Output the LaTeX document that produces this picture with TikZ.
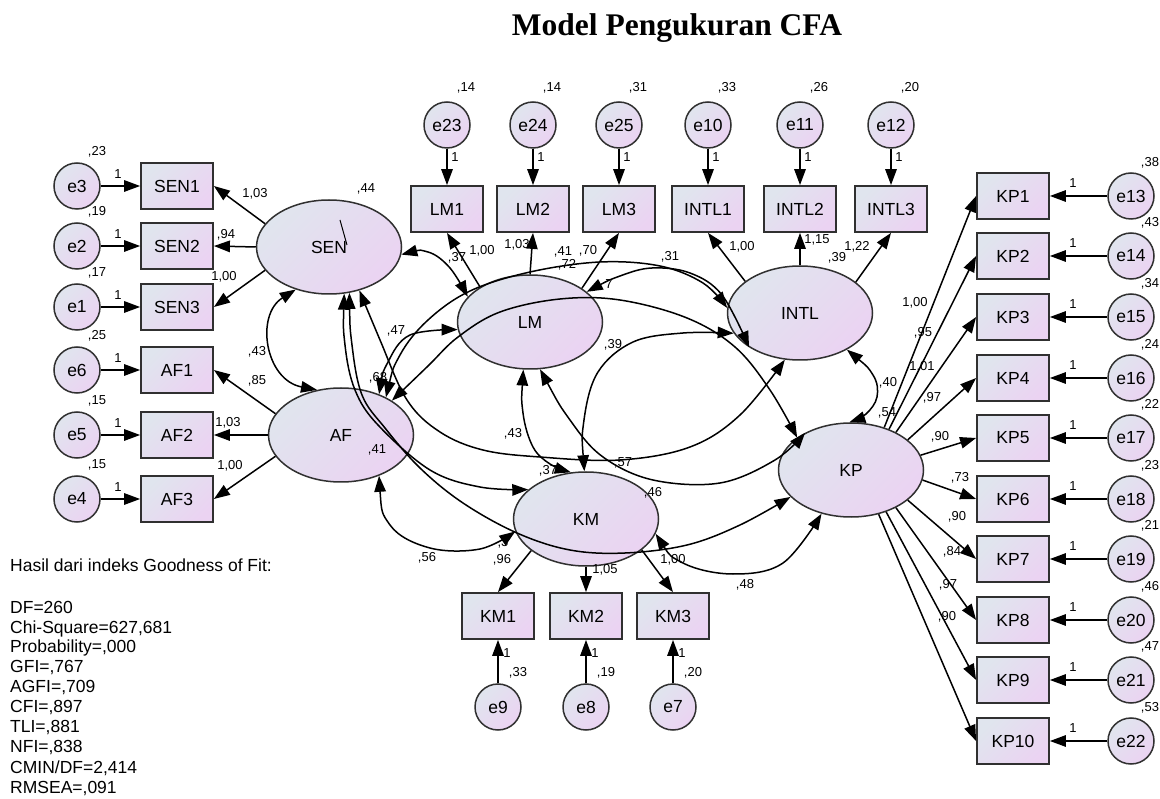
\documentclass[tikz,border=0pt]{standalone}
\usepackage{fontspec}
\setmainfont{Liberation Sans}
\newfontfamily\titlefont{Liberation Serif}
\usetikzlibrary{shapes.geometric,arrows.meta}
\definecolor{cA}{HTML}{E0E5EE}
\definecolor{cB}{HTML}{EBD3F2}
\definecolor{lc}{HTML}{303030}
\newcommand\fbig{\fontsize{17.5}{20}\selectfont}
\newcommand\fsm{\fontsize{13}{15}\selectfont}
\newcommand\lab[3]{\node[num] at (#1,#2) {#3};}
\begin{document}
\begin{tikzpicture}[x=1pt,y=-1pt,
  >={Triangle[length=16pt,width=11.5pt]},
  obs/.style={rectangle,draw=lc,line width=1.8pt,minimum width=72pt,minimum height=46pt,inner sep=0pt,
    top color=cA,bottom color=cB,shading angle=45,font=\fbig},
  lat/.style={ellipse,draw=lc,line width=1.5pt,minimum width=145pt,minimum height=94pt,inner sep=0pt,
    top color=cA,bottom color=cB,shading angle=45,font=\fbig},
  err/.style={circle,draw=lc,line width=1.5pt,minimum size=46pt,inner sep=0pt,
    top color=cA,bottom color=cB,shading angle=45,font=\fbig},
  num/.style={font=\fsm,inner sep=0pt},
  ld/.style={->,line width=1.5pt},
  cov/.style={<->,line width=1.5pt},
  fit/.style={font=\fbig,anchor=base west,inner sep=0pt}]
\useasboundingbox[fill=white] (0,0) rectangle (1160,799);

\node[font=\titlefont\bfseries\fontsize{31.5}{34}\selectfont,inner sep=0pt] (title) at (677,28) {Model Pengukuran CFA};

% latent variables
\node[lat] (SEN) at (329,247) {SEN};
\node[lat] (AF) at (341,435) {AF};
\node[lat] (LM) at (530,322) {LM};
\node[lat] (INTL) at (800,313) {INTL};
\node[lat] (KM) at (586,519) {KM};
\node[lat] (KP) at (851,470) {KP};
\draw[line width=1pt] (340,220) -- (347,245);

% left indicators
\foreach \b/\e/\y/\v in {SEN1/e3/186/23, SEN2/e2/246/19, SEN3/e1/307/17, AF1/e6/370/25, AF2/e5/435/15, AF3/e4/499/15}{
  \node[obs] (\b) at (177,\y) {\b};
  \node[err] (\e) at (77,\y) {\e};
  \node[num] at (97,\y-34) {,\v};
  \node[num] at (118,\y-12) {1};
  \draw[ld] (\e) -- (\b);
}
% top indicators
\foreach \b/\e/\x/\v in {LM1/e23/447/14, LM2/e24/533/14, LM3/e25/619/31, INTL1/e10/708/33, INTL2/e11/800/26, INTL3/e12/891/20}{
  \node[obs] (\b) at (\x,209) {\b};
  \node[err] (\e) at (\x,125) {\e};
  \node[num] at (\x+19,88) {,\v};
  \node[num] at (\x+8,157) {1};
  \draw[ld] (\e) -- (\b);
}
% KM indicators
\foreach \b/\e/\x/\v in {KM1/e9/498/33, KM2/e8/586/19, KM3/e7/673/20}{
  \node[obs] (\b) at (\x,616) {\b};
  \node[err] (\e) at (\x,707) {\e};
  \node[num] at (\x+20,673) {,\v};
  \node[num] at (\x+9,653) {1};
  \draw[ld] (\e) -- (\b);
}
% KP indicators
\foreach \b/\e/\y/\v in {KP1/e13/196/38, KP2/e14/256/43, KP3/e15/317/34, KP4/e16/378/24, KP5/e17/438/22, KP6/e18/499/23, KP7/e19/559/21, KP8/e20/620/46, KP9/e21/680/47, KP10/e22/741/53}{
  \node[obs] (\b) at (1013,\y) {\b};
  \node[err] (\e) at (1131,\y) {\e};
  \node[num] at (1150,\y-33) {,\v};
  \node[num] at (1073,\y-13) {1};
  \draw[ld] (\e) -- (\b);
}

% loadings
\draw[ld] (SEN.160) -- (SEN1.east);
\draw[ld] (SEN.180) -- (SEN2.east);
\draw[ld] (SEN.200) -- (SEN3.east);
\draw[ld] (AF.162) -- (AF1.east);
\draw[ld] (AF.180) -- (AF2.east);
\draw[ld] (AF.198) -- (AF3.east);
\draw[ld] (LM.145) -- (LM1.south);
\draw[ld] (LM.90) -- (LM2.south);
\draw[ld] (LM.33) -- (LM3.south);
\draw[ld] (INTL.150) -- (INTL1.south);
\draw[ld] (INTL.90) -- (INTL2.south);
\draw[ld] (INTL.29) -- (INTL3.south);
\draw[ld] (KM.210) -- (KM1.north);
\draw[ld] (KM.270) -- (KM2.north);
\draw[ld] (KM.331) -- (KM3.north);
\foreach \a/\b in {52/KP1,47/KP2,40/KP3,28/KP4,12/KP5,-8/KP6,-28/KP7,-40/KP8,-50/KP9,-58/KP10}{
  \draw[ld] (KP.\a) -- (\b.west);
}

% labels partly hidden under arrowheads
\lab{609}{284}{7}
\lab{503}{543}{,3}

% covariances
\draw[cov] (SEN.232) .. controls (255,315) and (265,380) .. (AF.118);
\draw[cov] plot[smooth,tension=0.6] coordinates {(SEN.-6) (428,252) (450,268) (LM.158)};
\draw[cov] plot[smooth,tension=0.6] coordinates {(AF.47) (388,362) (410,335) (LM.186)};
\draw[cov] plot[smooth,tension=0.6] coordinates {(AF.40) (400,355) (428,320) (470,291) (530,272) (600,262) (660,266) (703,283) (INTL.176)};
\draw[cov] plot[smooth,tension=0.6] coordinates {(AF.34) (428,366) (458,337) (500,312) (560,299) (620,300) (687,318) (735,347) (770,390) (KP.149)};
\draw[cov] plot[smooth,tension=0.6] coordinates {(LM.28) (620,276) (652,268) (690,273) (722,295) (INTL.214)};
\draw[cov] plot[smooth,tension=0.6] coordinates {(LM.262) (523,413) (533,447) (550,464) (KM.108)};
\draw[cov] plot[smooth,tension=0.6] coordinates {(LM.282) (570,420) (603,457) (653,480) (720,483) (775,460) (KP.141)};
\draw[cov] plot[smooth,tension=0.6] coordinates {(SEN.-72) (345,345) (355,390) (378,425) (430,470) (480,487) (KM.153)};
\draw[cov] plot[smooth,tension=0.6] coordinates {(SEN.-66) (352,345) (362,395) (385,428) (420,468) (463,503) (517,533) (570,550) (625,553) (687,545) (740,525) (KP.204)};
\draw[cov] plot[smooth,tension=0.6] coordinates {(SEN.-55) (380,340) (407,400) (440,432) (483,450) (540,457) (620,460) (690,447) (740,415) (INTL.-108)};
\draw[cov] plot[smooth,tension=0.6] coordinates {(AF.-47) (390,525) (430,548) (480,549) (KM.190)};
\draw[cov] plot[smooth,tension=0.6] coordinates {(KM.92) (584,420) (598,372) (633,342) (683,333) (INTL.197)};
\draw[cov] plot[smooth,tension=0.6] coordinates {(INTL.-38) (873,375) (877,397) (866,414) (KP.92)};
\draw[cov] plot[smooth,tension=0.6] coordinates {(KM.-12) (683,563) (733,574) (783,563) (KP.-124)};

% loading labels
\lab{255}{194}{1,03}
\lab{226}{235}{,94}
\lab{224}{277}{1,00}
\lab{257}{381}{,85}
\lab{228}{423}{1,03}
\lab{230}{466}{1,00}
\lab{482}{251}{1,00}
\lab{517}{245}{1,03}
\lab{588}{251}{,70}
\lab{742}{247}{1,00}
\lab{817}{240}{1,15}
\lab{857}{247}{1,22}
\lab{502}{560}{,96}
\lab{605}{570}{1,05}
\lab{673}{560}{1,00}
\lab{915}{303}{1,00}
\lab{923}{333}{,95}
\lab{922}{367}{1,01}
\lab{932}{398}{,97}
\lab{940}{437}{,90}
\lab{960}{478}{,73}
\lab{957}{517}{,90}
\lab{952}{552}{,84}
\lab{948}{585}{,97}
\lab{947}{617}{,90}
% variances
\lab{366}{189}{,44}
\lab{377}{450}{,41}
\lab{563}{252}{,41}
\lab{837}{258}{,39}
\lab{887}{413}{,54}
\lab{653}{493}{,46}
% covariance labels
\lab{257}{352}{,43}
\lab{457}{258}{,37}
\lab{396}{331}{,47}
\lab{378}{378}{,68}
\lab{567}{265}{,72}
\lab{670}{257}{,31}
\lab{613}{345}{,39}
\lab{888}{383}{,40}
\lab{513}{434}{,43}
\lab{548}{471}{,37}
\lab{623}{463}{,57}
\lab{427}{558}{,56}
\lab{745}{585}{,48}

% fit indices
\node[fit] (fit0) at (10,571) {Hasil dari indeks Goodness of Fit:};
\node[fit] (fit1) at (10,613) {DF=260};
\node[fit] (fit2) at (10,633) {Chi-Square=627,681};
\node[fit] (fit3) at (10,652) {Probability=,000};
\node[fit] (fit4) at (10,672) {GFI=,767};
\node[fit] (fit5) at (10,692) {AGFI=,709};
\node[fit] (fit6) at (10,712) {CFI=,897};
\node[fit] (fit7) at (10,732) {TLI=,881};
\node[fit] (fit8) at (10,752) {NFI=,838};
\node[fit] (fit9) at (10,773) {CMIN/DF=2,414};
\node[fit] (fit10) at (10,793) {RMSEA=,091};
\end{tikzpicture}
\end{document}
